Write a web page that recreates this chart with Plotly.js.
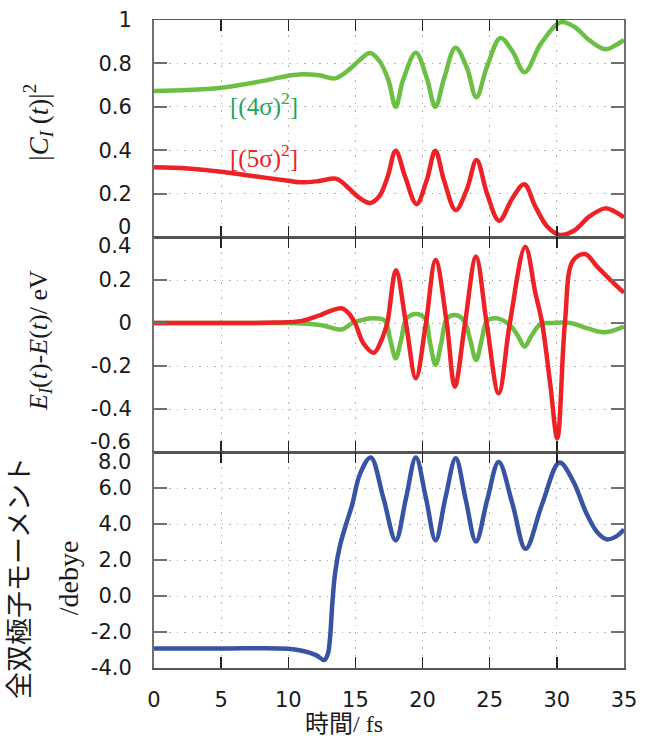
<!DOCTYPE html>
<html><head><meta charset="utf-8">
<script src="https://cdn.plot.ly/plotly-3.0.1.min.js"></script>
<style>html,body{margin:0;padding:0;background:#fff;}#chart{width:653px;height:736px;}</style>
</head><body><div id="chart"></div>
<script>
// ---- data ----
const xTicks = [0, 5, 10, 15, 20, 25, 30, 35];
const xTickText = ['0', '5', '10', '15', '20', '25', '30', '35'];

// panel 1 : |C_I(t)|^2
const tG1 = [0, 2.5, 5, 7.5, 10, 11, 12.3, 13.5, 14.5, 15.3, 16.1, 16.8, 17.45, 18.0, 18.55, 19.5, 20.3, 20.95, 21.6, 22.45, 23.3, 24.0, 24.8, 25.8, 26.7, 27.6, 28.8, 30.3, 31.3, 32.4, 33.6, 34.4, 35];
const vG1 = [0.673, 0.677, 0.688, 0.712, 0.743, 0.75, 0.745, 0.731, 0.77, 0.815, 0.848, 0.81, 0.724, 0.60, 0.724, 0.849, 0.735, 0.60, 0.73, 0.872, 0.78, 0.644, 0.785, 0.917, 0.855, 0.759, 0.89, 0.99, 0.969, 0.908, 0.865, 0.885, 0.908];
const tR1 = [0, 2.5, 5, 7.5, 10, 11, 12.3, 13.6, 14.5, 15.3, 16.1, 16.8, 17.4, 18.0, 18.7, 19.55, 20.3, 20.95, 21.6, 22.47, 23.3, 24.02, 24.8, 25.7, 26.7, 27.57, 28.4, 29.3, 30.2, 31.3, 32.4, 33.6, 34.3, 35];
const vR1 = [0.321, 0.316, 0.301, 0.28, 0.259, 0.252, 0.258, 0.268, 0.225, 0.18, 0.157, 0.19, 0.278, 0.398, 0.278, 0.152, 0.26, 0.398, 0.26, 0.124, 0.22, 0.355, 0.2, 0.075, 0.18, 0.243, 0.14, 0.047, 0.01, 0.03, 0.094, 0.132, 0.118, 0.09];

// panel 2 : E_I(t)-E(t) / eV
const tR2 = [0, 6, 9, 11, 12.3, 13.2, 14.0, 14.5, 14.97, 15.6, 16.38, 17.0, 17.37, 18.02, 18.76, 19.5, 20.25, 20.97, 21.8, 22.4, 23.16, 23.98, 24.77, 25.67, 26.5, 27.65, 28.4, 28.9, 29.5, 30.03, 30.6, 31.2, 32.1, 33.0, 34.0, 35];
const vR2 = [0, 0, 0.002, 0.01, 0.035, 0.058, 0.068, 0.045, 0, -0.095, -0.138, -0.07, 0, 0.246, 0, -0.257, 0, 0.293, 0, -0.296, 0, 0.308, 0, -0.327, 0, 0.355, 0.14, 0, -0.28, -0.536, 0, 0.29, 0.321, 0.262, 0.2, 0.141];
const tG2 = [0, 9, 11, 12.5, 13.97, 14.8, 16.38, 17.2, 17.6, 18.0, 18.4, 18.8, 19.5, 20.2, 20.55, 20.97, 21.4, 21.8, 22.4, 23.1, 23.55, 23.98, 24.4, 24.8, 25.5, 26.5, 27.1, 27.6, 28.1, 28.8, 29.7, 31, 32.3, 33.6, 35];
const vG2 = [0, 0, -0.002, -0.01, -0.03, 0.0, 0.022, 0.01, -0.08, -0.164, -0.08, 0.02, 0.042, 0.02, -0.09, -0.195, -0.09, 0.02, 0.037, 0.01, -0.08, -0.172, -0.08, 0.01, 0.022, -0.01, -0.06, -0.11, -0.06, -0.005, 0.0, 0.0, -0.025, -0.043, -0.017];

// panel 3 : total dipole moment / debye
const tB = [0, 5, 10, 11.2, 12.1, 12.68, 12.95, 13.1, 13.3, 13.5, 13.85, 14.35, 14.75, 15.35, 16.14, 17.08, 18.0, 18.77, 19.5, 20.25, 20.97, 21.7, 22.47, 23.2, 23.98, 24.8, 25.67, 26.7, 27.67, 28.9, 30.2, 31.2, 32.2, 33.0, 33.7, 34.4, 35];
const vB = [-2.92, -2.92, -2.93, -3.07, -3.3, -3.56, -3.2, -2.4, -0.2, 1.35, 2.8, 4.1, 5.05, 6.8, 7.7, 5.45, 3.09, 5.45, 7.7, 5.45, 3.09, 5.45, 7.65, 5.4, 3.03, 5.3, 7.45, 5.1, 2.62, 5.1, 7.42, 6.4, 4.6, 3.55, 3.15, 3.3, 3.69];

const y1Ticks = [0.2, 0.4, 0.6, 0.8, 1];
const y1Text = ['0.2', '0.4', '0.6', '0.8', '1'];
const y2Ticks = [-0.4, -0.2, 0, 0.2];
const y2Text = ['-0.4', '-0.2', '0', '0.2'];
const y3Ticks = [-4, -2, 0, 2, 4, 6];
const y3Text = ['-4.0', '-2.0', '0.0', '2.0', '4.0', '6.0'];
// boundary tick labels drawn offset (value, text, axis, shift)
const edgeLabels = [[0, '0', 'y', 10], [0.4, '0.4', 'y2', -9], [-0.6, '-0.6', 'y2', 10], [8, '8.0', 'y3', -10]];

// ---- style ----
const GREEN = '#6cbf45', RED = '#ed2226', BLUE = '#3953a4';
const tickFont = {family: 'DejaVu Sans, sans-serif', size: 21, color: '#1a1a1a'};
const serif = 'Liberation Serif, Noto Sans CJK JP, serif';

function tr(x, y, color, xa, ya) {
  return {x: x, y: y, xaxis: xa, yaxis: ya, type: 'scatter', mode: 'lines',
    line: {color: color, width: 4.5, shape: 'spline', smoothing: 1}, hoverinfo: 'skip'};
}
const data = [
  tr(tG1, vG1, GREEN, 'x', 'y'), tr(tR1, vR1, RED, 'x', 'y'),
  tr(tG2, vG2, GREEN, 'x2', 'y2'), tr(tR2, vR2, RED, 'x2', 'y2'),
  tr(tB, vB, BLUE, 'x3', 'y3')
];

function xa(anchor, labels) {
  return {anchor: anchor, range: [0, 35], tickmode: 'array', tickvals: xTicks, ticktext: xTickText,
    showticklabels: labels, tickfont: tickFont, ticks: 'inside', ticklen: 11, tickwidth: 1.5, tickcolor: '#222',
    mirror: 'ticks', showline: true, linecolor: '#555', linewidth: 1.5, zeroline: false,
    showgrid: true, gridcolor: '#b0b0b0', gridwidth: 1, griddash: '1.5px,6px', ticklabelstandoff: 12};
}
function ya(domain, range, tv, tt, anchor) {
  return {domain: domain, range: range, anchor: anchor, tickmode: 'array', tickvals: tv, ticktext: tt,
    tickfont: tickFont, ticks: 'inside', ticklen: 13, tickwidth: 2, tickcolor: '#707070',
    mirror: 'ticks', showline: true, linecolor: '#707070', linewidth: 2, zeroline: false,
    showgrid: true, gridcolor: '#b0b0b0', gridwidth: 1, griddash: '1.5px,6px', ticklabelstandoff: 16};
}

const annotations = [];
edgeLabels.forEach(e => annotations.push({xref: 'paper', yref: e[2], x: -0.0447, y: e[0], xanchor: 'right', yanchor: 'middle',
  yshift: e[3], text: e[1], showarrow: false, font: tickFont}));
function lab(x, y, text, font, angle) {
  return {xref: 'paper', yref: 'paper', x: x, y: y, xanchor: 'center', yanchor: 'middle',
    textangle: angle || 0, text: text, showarrow: false, font: font};
}
annotations.push(
  lab(0.234, 0.869, '[(4σ)<sup>2</sup>]', {family: serif, size: 25, color: '#1fa65a'}),
  lab(0.234, 0.789, '[(5σ)<sup>2</sup>]', {family: serif, size: 25, color: RED}),
  lab(-0.247, 0.843, '|<i>C</i><sub><i>I</i></sub> (<i>t</i>)|<sup>2</sup>', {family: serif, size: 27, color: '#1a1a1a'}, -90),
  lab(-0.243, 0.506, '<i>E</i><sub><i>I</i></sub>(<i>t</i>)-<i>E</i>(<i>t</i>)/ eV', {family: serif, size: 26, color: '#1a1a1a'}, -90),
  lab(-0.285, 0.139, '全双極子モーメント', {family: serif, size: 27, color: '#1a1a1a'}, -90),
  lab(-0.183, 0.140, '/debye', {family: serif, size: 28, color: '#1a1a1a'}, -90),
  lab(0.404, -0.0864, '時間/ fs', {family: serif, size: 24, color: '#1a1a1a'})
);

const layout = {
  width: 653, height: 736, margin: {l: 154, r: 29, t: 20, b: 68},
  paper_bgcolor: '#fff', plot_bgcolor: '#fff', showlegend: false,
  xaxis: xa('y', false), xaxis2: Object.assign(xa('y2', false), {matches: 'x'}), xaxis3: Object.assign(xa('y3', true), {matches: 'x'}),
  yaxis: ya([0.6651, 1], [0, 1], y1Ticks, y1Text, 'x'),
  yaxis2: ya([0.3333, 0.6651], [-0.6, 0.4], y2Ticks, y2Text, 'x2'),
  yaxis3: ya([0, 0.3333], [-4, 8], y3Ticks, y3Text, 'x3'),
  annotations: annotations
};
Plotly.newPlot('chart', data, layout, {staticPlot: true, displayModeBar: false});
</script></body></html>
